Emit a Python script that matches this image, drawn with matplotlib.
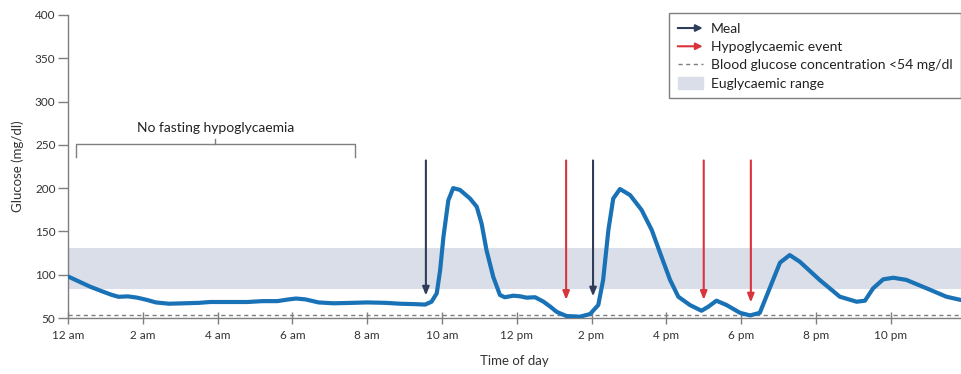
import matplotlib
matplotlib.use("Agg")
from matplotlib import pyplot as plt
from matplotlib.patches import FancyArrowPatch, Patch
from matplotlib.lines import Line2D
from matplotlib.legend_handler import HandlerBase

plt.rcParams['font.family'] = ['Lato', 'DejaVu Sans']

# glucose trace (hours after midnight, mg/dl)
heures = [0, 0.3, 0.6, 0.9, 1.15, 1.35, 1.6, 1.85, 2.1, 2.35, 2.7, 3.1, 3.5, 3.8,
          4.3, 4.8, 5.2, 5.6, 5.9, 6.1, 6.35, 6.7, 7.1, 7.6, 8.0, 8.5, 8.88, 9.3,
          9.55, 9.72, 9.86, 9.95, 10.04, 10.17, 10.3, 10.48, 10.75, 10.93, 11.06,
          11.19, 11.37, 11.55, 11.68, 11.91, 12.1, 12.26, 12.49, 12.71, 12.9, 13.07,
          13.33, 13.69, 13.96, 14.18, 14.31, 14.45, 14.58, 14.76, 15.03, 15.34,
          15.61, 15.87, 16.1, 16.32, 16.63, 16.94, 17.12, 17.34, 17.61, 17.97,
          18.24, 18.5, 18.77, 19.04, 19.3, 19.57, 20.1, 20.64, 21.09, 21.31, 21.53,
          21.8, 22.07, 22.42, 22.96, 23.49, 23.88]
glucose = [98, 92, 86, 81, 77, 74.5, 75, 73.5, 71, 68, 66.5, 67, 67.5, 68.5,
           68.5, 68.5, 69.5, 69.5, 71.5, 72.5, 71.5, 68, 67, 67.5, 68, 67.5, 66.5, 66,
           65.5, 68.8, 78.5, 105, 144, 186, 200, 198, 188, 178.5, 159,
           128.5, 97.7, 76.6, 74, 75.8, 75, 73.5, 74, 69, 63, 57,
           52.3, 51.5, 54.6, 65, 94, 151.6, 188, 199, 192, 174.7,
           151.6, 120.8, 94, 74.6, 65, 58.4, 63, 70, 65, 56,
           53, 56, 85, 114, 122.7, 115, 94, 74.6, 68.8, 70, 84.3,
           94.7, 96.5, 94, 84.3, 74.6, 70.8]

eugly = (83, 131)
seuil = 54

repas = [9.57, 14.04]
repas_bas = [76, 75]
hypos = [13.32, 17.0, 18.26]
hypos_bas = [71, 71, 68]
fleche_haut = 232

xticks = [0, 2, 4, 6, 8, 10, 12, 14, 16, 18, 20, 22]
xlabels = ["12 am", "2 am", "4 am", "6 am", "8 am", "10 am",
           "12 pm", "2 pm", "4 pm", "6 pm", "8 pm", "10 pm"]
yticks = [50, 100, 150, 200, 250, 300, 350, 400]

bleu = "#1a72b6"
marine = "#2f3d5a"
rouge = "#d7343b"
gris = "#7f7f7f"
bande = "#d9dee8"


class HandlerFleche(HandlerBase):
    def create_artists(self, legend, orig, xd, yd, w, h, fontsize, trans):
        a = FancyArrowPatch((-xd, -yd + h / 2), (-xd + w, -yd + h / 2),
                            arrowstyle="-|>,head_length=4,head_width=2",
                            color=orig.get_color(), lw=1.5, transform=trans,
                            shrinkA=0, shrinkB=0)
        return [a]


fig = plt.figure(figsize=(9.61, 3.74), dpi=100)
ax = fig.add_axes([0.0708, 0.1497, 0.9292, 0.8102])

ax.axhspan(eugly[0], eugly[1], color=bande, lw=0, zorder=0)
ax.axhline(seuil, color=gris, ls=(0, (3, 2.5)), lw=1, zorder=1)
ax.plot(heures, glucose, color=bleu, lw=3, solid_capstyle="round",
        solid_joinstyle="round", zorder=3)

for x, b in zip(repas, repas_bas):
    ax.annotate("", xy=(x, b), xytext=(x, fleche_haut),
                arrowprops=dict(arrowstyle="-|>,head_length=0.5,head_width=0.2",
                                color=marine, lw=1.5, shrinkA=0, shrinkB=0), zorder=4)
for x, b in zip(hypos, hypos_bas):
    ax.annotate("", xy=(x, b), xytext=(x, fleche_haut),
                arrowprops=dict(arrowstyle="-|>,head_length=0.5,head_width=0.2",
                                color=rouge, lw=1.5, shrinkA=0, shrinkB=0), zorder=4)

# bracket
bx0, bx1 = 0.21, 7.67
ax.plot([bx0, bx0, bx1, bx1], [236, 251, 251, 236], color=gris, lw=1)
ax.plot([(bx0 + bx1) / 2] * 2, [251, 257], color=gris, lw=1)
ax.text((bx0 + bx1) / 2, 262, "No fasting hypoglycaemia", ha="center", va="bottom",
        fontsize=10, color="#222222")

ax.set_xlim(0, 23.88)
ax.set_ylim(50, 400)
ax.set_xticks(xticks)
ax.set_xticklabels(xlabels)
ax.set_yticks(yticks)
ax.tick_params(axis="both", colors=gris, labelcolor="#333333", labelsize=8.5, width=1)
ax.tick_params(axis="x", direction="inout", length=9, pad=4)
ax.tick_params(axis="y", direction="out", length=7, pad=2)
for s in ["top", "right"]:
    ax.spines[s].set_visible(False)
for s in ["left", "bottom"]:
    ax.spines[s].set_color(gris)
    ax.spines[s].set_linewidth(1)
ax.set_ylabel("Glucose (mg/dl)", fontsize=9.5, color="#333333", labelpad=8)
ax.set_xlabel("Time of day", fontsize=9.5, color="#333333", labelpad=10)

h_repas = Line2D([], [], color=marine)
h_hypo = Line2D([], [], color=rouge)
h_seuil = Line2D([], [], color=gris, ls=(0, (3, 2.5)), lw=1)
h_band = Patch(color=bande)
leg = ax.legend([h_repas, h_hypo, h_seuil, h_band],
                ["Meal", "Hypoglycaemic event", "Blood glucose concentration <54 mg/dl",
                 "Euglycaemic range"],
                handler_map={h_repas: HandlerFleche(), h_hypo: HandlerFleche()},
                loc="upper right", bbox_to_anchor=(1.0, 1.005), fontsize=10,
                fancybox=False, edgecolor=gris, framealpha=1, handlelength=1.8,
                handleheight=1.0, labelspacing=0.38, borderpad=0.6, handletextpad=0.6,
                borderaxespad=0.0)
leg.get_frame().set_linewidth(1)
for t in leg.get_texts():
    t.set_color("#222222")

fig.savefig("out.png", dpi=100)
